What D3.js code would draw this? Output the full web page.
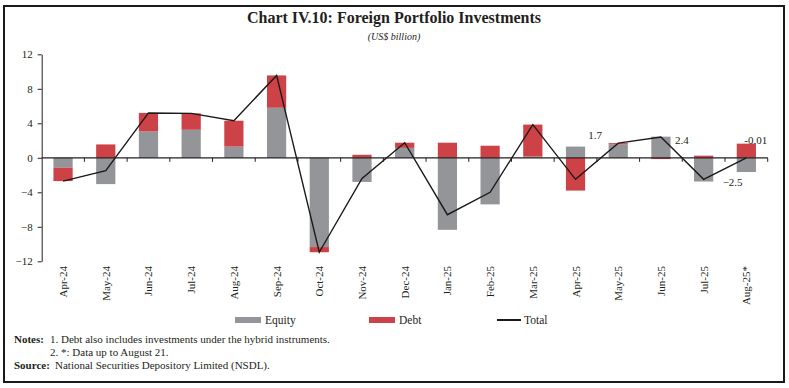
<!DOCTYPE html>
<html>
<head>
<meta charset="utf-8">
<script src="https://cdn.jsdelivr.net/npm/d3@7"></script>
<style>
  body { margin: 0; background: #fff; }
  svg { display: block; font-family: 'Liberation Serif', 'DejaVu Serif', serif; }
</style>
</head>
<body>
<svg width="789" height="388"></svg>
<script>
const categories = ['Apr-24', 'May-24', 'Jun-24', 'Jul-24', 'Aug-24', 'Sep-24', 'Oct-24', 'Nov-24', 'Dec-24',
  'Jan-25', 'Feb-25', 'Mar-25', 'Apr-25', 'May-25', 'Jun-25', 'Jul-25', 'Aug-25*']
const equity = [-1.15, -3.05, 3.05, 3.25, 1.3, 5.8, -10.35, -2.8, 1.15, -8.35, -5.4, 0.15, 1.3, 1.55, 2.45, -2.75, -1.65]
const debt = [-1.55, 1.55, 2.15, 1.9, 3.0, 3.75, -0.6, 0.35, 0.6, 1.75, 1.4, 3.7, -3.8, 0.15, -0.15, 0.25, 1.64]
const total = [-2.7, -1.5, 5.2, 5.15, 4.3, 9.55, -10.95, -2.4, 1.75, -6.6, -4.0, 3.85, -2.5, 1.7, 2.4, -2.5, -0.01]
const yTicks = [-12, -8, -4, 0, 4, 8, 12]
const labelled = ['May-25', 'Jun-25', 'Jul-25', 'Aug-25*']

const svg = d3.select('svg')

const colors = { equity: '#949598', debt: '#cd4246' }

// frame
svg.append('rect')
  .attr('x', 4).attr('y', 6)
  .attr('width', 780).attr('height', 376)
  .attr('fill', 'none')
  .attr('stroke', '#1a1a1a')
  .attr('stroke-width', 2)

svg.append('text')
  .attr('x', 394).attr('y', 23)
  .attr('text-anchor', 'middle')
  .style('font-size', '16px')
  .style('font-weight', 'bold')
  .attr('fill', '#231f20')
  .text('Chart IV.10: Foreign Portfolio Investments')

svg.append('text')
  .attr('x', 394).attr('y', 40)
  .attr('text-anchor', 'middle')
  .style('font-size', '10px')
  .style('font-style', 'italic')
  .attr('fill', '#231f20')
  .text('(US$ billion)')

const data = categories.map((c, i) => ({ name: c, equity: equity[i], debt: debt[i], total: total[i] }))

const xScale = d3.scaleBand()
  .domain(categories)
  .range([41.7, 767.7])
  .paddingInner(0.55)
  .paddingOuter(0.275)

const yScale = d3.scaleLinear()
  .domain([-12, 12])
  .range([261.3, 54.3])

const stack = d3.stack()
  .keys(['equity', 'debt'])
  .offset(d3.stackOffsetDiverging)
const series = stack(data)

const g = svg.append('g')

series.forEach(s => {
  g.append('g')
    .attr('fill', colors[s.key])
    .selectAll('rect')
    .data(s)
    .enter()
    .append('rect')
    .attr('x', d => xScale(d.data.name))
    .attr('y', d => yScale(Math.max(d[0], d[1])))
    .attr('height', d => Math.abs(yScale(d[0]) - yScale(d[1])))
    .attr('width', xScale.bandwidth())
})

// y axis
const yAxis = d3.axisLeft(yScale)
  .tickValues(yTicks)
  .tickSize(4)
  .tickSizeOuter(0)
  .tickPadding(5)
const yAxisG = svg.append('g')
  .attr('transform', `translate(${xScale.range()[0]}, 0)`)
  .call(yAxis)
yAxisG.selectAll('text')
  .style('font-family', "'Liberation Serif', serif")
  .style('font-size', '11px')
  .attr('fill', '#231f20')
yAxisG.selectAll('line, path').attr('stroke', '#231f20')

// zero line with boundary ticks
const step = xScale.step()
const zeroG = svg.append('g')
zeroG.append('line')
  .attr('x1', xScale.range()[0]).attr('x2', xScale.range()[1])
  .attr('y1', yScale(0)).attr('y2', yScale(0))
  .attr('stroke', '#231f20').attr('stroke-width', 1.2)
zeroG.selectAll('.xtick')
  .data(categories)
  .enter()
  .append('line')
  .attr('x1', d => xScale(d) - step * 0.275 + step)
  .attr('x2', d => xScale(d) - step * 0.275 + step)
  .attr('y1', yScale(0))
  .attr('y2', yScale(0) + 4)
  .attr('stroke', '#231f20')

// x labels
svg.append('g')
  .selectAll('text')
  .data(categories)
  .enter()
  .append('text')
  .attr('transform', d => `translate(${xScale(d) + xScale.bandwidth() / 2 + 4}, 266) rotate(-90)`)
  .attr('text-anchor', 'end')
  .style('font-size', '11px')
  .attr('fill', '#231f20')
  .text(d => d)

// total line
const line = d3.line()
  .x(d => xScale(d.name) + xScale.bandwidth() / 2)
  .y(d => yScale(d.total))
svg.append('path')
  .datum(data)
  .attr('fill', 'none')
  .attr('stroke', '#1a1a1a')
  .attr('stroke-width', 1.4)
  .attr('d', line)

// data labels
const labelOffsets = {
  'May-25': [-23, -8, 'middle'],
  'Jun-25': [14, 3, 'start'],
  'Jul-25': [19, 3, 'start'],
  'Aug-25*': [-2, -18, 'start']
}
svg.append('g')
  .selectAll('text')
  .data(data.filter(d => labelled.includes(d.name)))
  .enter()
  .append('text')
  .attr('x', d => xScale(d.name) + xScale.bandwidth() / 2 + labelOffsets[d.name][0])
  .attr('y', d => yScale(d.total) + labelOffsets[d.name][1])
  .attr('dy', '0.35em')
  .attr('text-anchor', d => labelOffsets[d.name][2])
  .style('font-size', '11px')
  .attr('fill', '#231f20')
  .text(d => d.total === -0.01 ? '-0.01' : d3.format('.1f')(d.total))

// legend
const legend = [
  { name: 'Equity', type: 'rect', color: colors.equity, x: 235 },
  { name: 'Debt', type: 'rect', color: colors.debt, x: 369 },
  { name: 'Total', type: 'line', color: '#1a1a1a', x: 497 }
]
const lg = svg.append('g').selectAll('g')
  .data(legend)
  .enter()
  .append('g')
  .attr('transform', d => `translate(${d.x}, 320)`)
lg.filter(d => d.type === 'rect')
  .append('rect')
  .attr('x', 0).attr('y', -3)
  .attr('width', 26).attr('height', 6)
  .attr('fill', d => d.color)
lg.filter(d => d.type === 'line')
  .append('line')
  .attr('x1', 0).attr('x2', 24)
  .attr('stroke', d => d.color)
  .attr('stroke-width', 2)
lg.append('text')
  .attr('x', d => d.type === 'line' ? 27 : 30)
  .attr('dy', '0.35em')
  .style('font-size', '11.5px')
  .attr('fill', '#231f20')
  .text(d => d.name)

// notes
const notes = svg.append('g')
  .style('font-size', '11px')
  .attr('fill', '#231f20')
notes.append('text').attr('x', 14).attr('y', 343)
  .style('font-weight', 'bold').text('Notes:')
notes.append('text').attr('x', 50).attr('y', 343)
  .text('1.  Debt also includes investments under the hybrid instruments.')
notes.append('text').attr('x', 50).attr('y', 356)
  .text('2.  *: Data up to August 21.')
notes.append('text').attr('x', 14).attr('y', 369)
  .style('font-weight', 'bold').text('Source:')
notes.append('text').attr('x', 55).attr('y', 369)
  .text('National Securities Depository Limited (NSDL).')
</script>
</body>
</html>
